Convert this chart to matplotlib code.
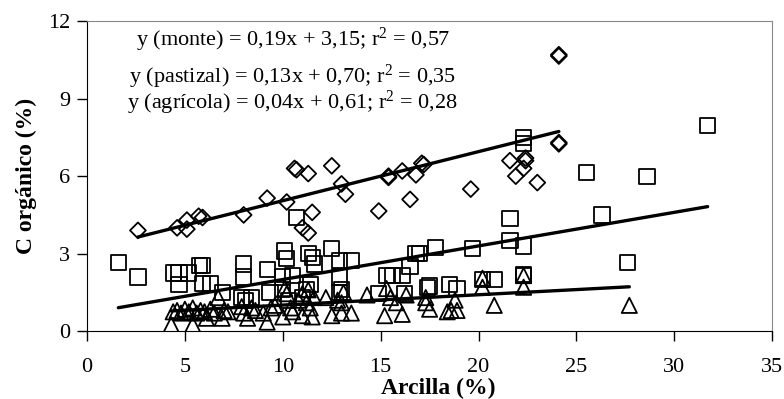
import numpy as np
import matplotlib
matplotlib.use("Agg")
import matplotlib.pyplot as plt

plt.rcParams["font.family"] = ["Liberation Serif", "DejaVu Serif"]
plt.rcParams["mathtext.fontset"] = "custom"
plt.rcParams["mathtext.rm"] = "Liberation Serif"
plt.rcParams["mathtext.default"] = "rm"

# monte (diamonds)
monte_x = [2.6, 4.6, 5.1, 5.1, 5.7, 5.9, 8.0, 9.2, 10.2, 10.6, 10.7, 11.3, 11.0, 11.3,
           11.5, 12.5, 13.0, 13.2, 14.9, 15.4, 15.4, 16.1, 16.5, 16.8, 17.1, 17.2, 19.6,
           21.6, 21.9, 22.3, 22.4, 22.4, 23.0, 24.1, 24.1, 24.1, 24.1]
monte_y = [3.9, 4.0, 4.3, 3.95, 4.45, 4.4, 4.5, 5.15, 5.0, 6.3, 6.25, 6.1, 4.0, 3.8,
           4.6, 6.4, 5.7, 5.3, 4.65, 6.0, 5.95, 6.2, 5.1, 6.05, 6.5, 6.45, 5.5,
           6.6, 6.0, 6.3, 6.7, 6.6, 5.75, 10.7, 10.65, 7.3, 7.25]

# pastizal (squares)
past_x = [1.6, 2.6, 4.4, 4.7, 5.2, 4.7, 5.75, 5.9, 5.9, 6.3, 6.9, 8.0, 8.0, 7.9, 8.1,
          8.4, 9.2, 9.35, 10.1, 10.2, 10.0, 10.5, 10.7, 11.3, 11.5, 11.6, 12.5, 12.9,
          13.5, 12.9, 15.3, 15.6, 16.1, 16.5, 16.8, 17.0, 17.4, 16.2, 14.9, 17.8, 19.7,
          21.6, 22.3, 21.6, 26.3, 25.5, 28.6, 31.7, 22.3, 22.3, 17.5, 18.5, 18.9, 20.2,
          20.8, 22.3, 22.3, 27.6, 10.0, 11.2, 11.4, 12.9, 13.0, 10.3, 11.0]
past_y = [2.65, 2.1, 2.25, 2.25, 2.25, 1.8, 2.55, 2.55, 1.85, 1.85, 1.5, 2.6, 2.1, 1.3, 1.2,
          1.3, 2.4, 1.5, 3.1, 2.8, 2.1, 2.15, 4.4, 3.0, 2.85, 2.6, 3.2, 2.75,
          2.75, 2.1, 2.15, 2.15, 2.15, 2.5, 3.0, 3.0, 1.7, 1.45, 1.45, 3.25, 3.2,
          3.5, 3.3, 4.35, 4.5, 6.15, 6.0, 7.95, 7.5, 7.25, 1.75, 1.8, 1.65, 2.0,
          2.0, 2.15, 2.2, 2.65, 1.6, 1.6, 1.8, 1.5, 1.6, 1.2, 1.3]

# agricola (triangles)
agri_x = [4.3, 5.4, 4.4, 4.6, 4.8, 5.0, 5.2, 5.4, 5.6, 5.8, 6.0, 6.1, 6.3, 6.5, 6.7, 6.9,
          7.0, 7.2, 7.9, 8.0, 8.2, 8.4, 8.6, 9.0, 9.2, 9.4, 9.6, 10.0, 10.1, 10.2, 10.4,
          10.5, 10.8, 11.0, 11.0, 11.2, 11.3, 11.4, 11.5, 11.6, 12.2, 12.5, 12.8, 13.0,
          13.0, 13.1, 13.5, 14.3, 15.2, 15.3, 15.5, 15.8, 16.1, 16.3, 17.3, 17.3, 17.5,
          18.4, 18.6, 18.9, 18.8, 20.2, 20.2, 20.8, 22.3, 22.3, 27.7]
agri_y = [0.25, 0.25, 0.75, 0.8, 0.7, 0.85, 0.75, 0.9, 0.7, 0.8, 0.75, 0.5, 0.85, 0.7, 1.3, 0.5,
          0.8, 0.75, 0.95, 0.7, 0.5, 0.9, 0.8, 0.7, 0.35, 0.9, 1.0, 0.55, 1.65, 1.45, 0.9,
          0.75, 1.2, 0.6, 1.45, 1.1, 1.6, 0.9, 0.55, 1.3, 1.3, 0.6, 1.2, 1.1,
          0.7, 1.5, 0.7, 1.4, 0.6, 1.65, 1.3, 1.1, 0.65, 1.4, 1.3, 1.1, 0.85,
          0.75, 0.8, 0.8, 1.2, 1.7, 2.05, 1.0, 1.7, 2.15, 1.0]

# fitted equations (slope, intercept) as printed on the chart
fits = {"monte": (0.19, 3.15), "pastizal": (0.13, 0.70), "agri": (0.04, 0.61)}
labels = ["y (monte) = 0,19x + 3,15; r$^2$ = 0,57",
          "y (pastizal) = 0,13x + 0,70; r$^2$ = 0,35",
          "y (agrícola) = 0,04x + 0,61; r$^2$ = 0,28"]

fig = plt.figure(figsize=(7.84, 3.99), dpi=100)
ax = fig.add_axes([0.111, 0.170, 0.874, 0.777])

mk = dict(facecolors="none", edgecolors="black", linewidths=1.3, zorder=3)
ax.scatter(monte_x, monte_y, marker="D", s=65, **mk)
ax.scatter(past_x, past_y, marker="s", s=120, **mk)
ax.scatter(agri_x, agri_y, marker="^", s=120, **mk)

for (xs, key) in [(monte_x, "monte"), (past_x, "pastizal"), (agri_x, "agri")]:
    m, b = fits[key]
    xx = np.array([min(xs), max(xs)])
    ax.plot(xx, m * xx + b, color="black", lw=2.4, solid_capstyle="round", zorder=4)

for txt, yy in zip(labels, [11.27, 9.85, 8.83]):
    ax.text(10.5, yy, txt, ha="center", va="center", fontsize=16)

ax.set_xlim(0, 35)
ax.set_ylim(0, 12)
ax.set_xticks(range(0, 36, 5))
ax.set_yticks(range(0, 13, 3))
ax.tick_params(direction="out", length=7, width=1, labelsize=16)
ax.tick_params(axis="x", pad=12)
ax.tick_params(axis="y", pad=5)
ax.set_xlabel("Arcilla (%)", fontsize=17, fontweight="bold")
ax.xaxis.set_label_coords(0.512, -0.152)
ax.set_ylabel("C orgánico (%)", fontsize=17, fontweight="bold", labelpad=8)
for s in ["top", "right"]:
    ax.spines[s].set_color("#888888")
for s in ["left", "bottom"]:
    ax.spines[s].set_color("black")

fig.savefig("out.png", dpi=100)
